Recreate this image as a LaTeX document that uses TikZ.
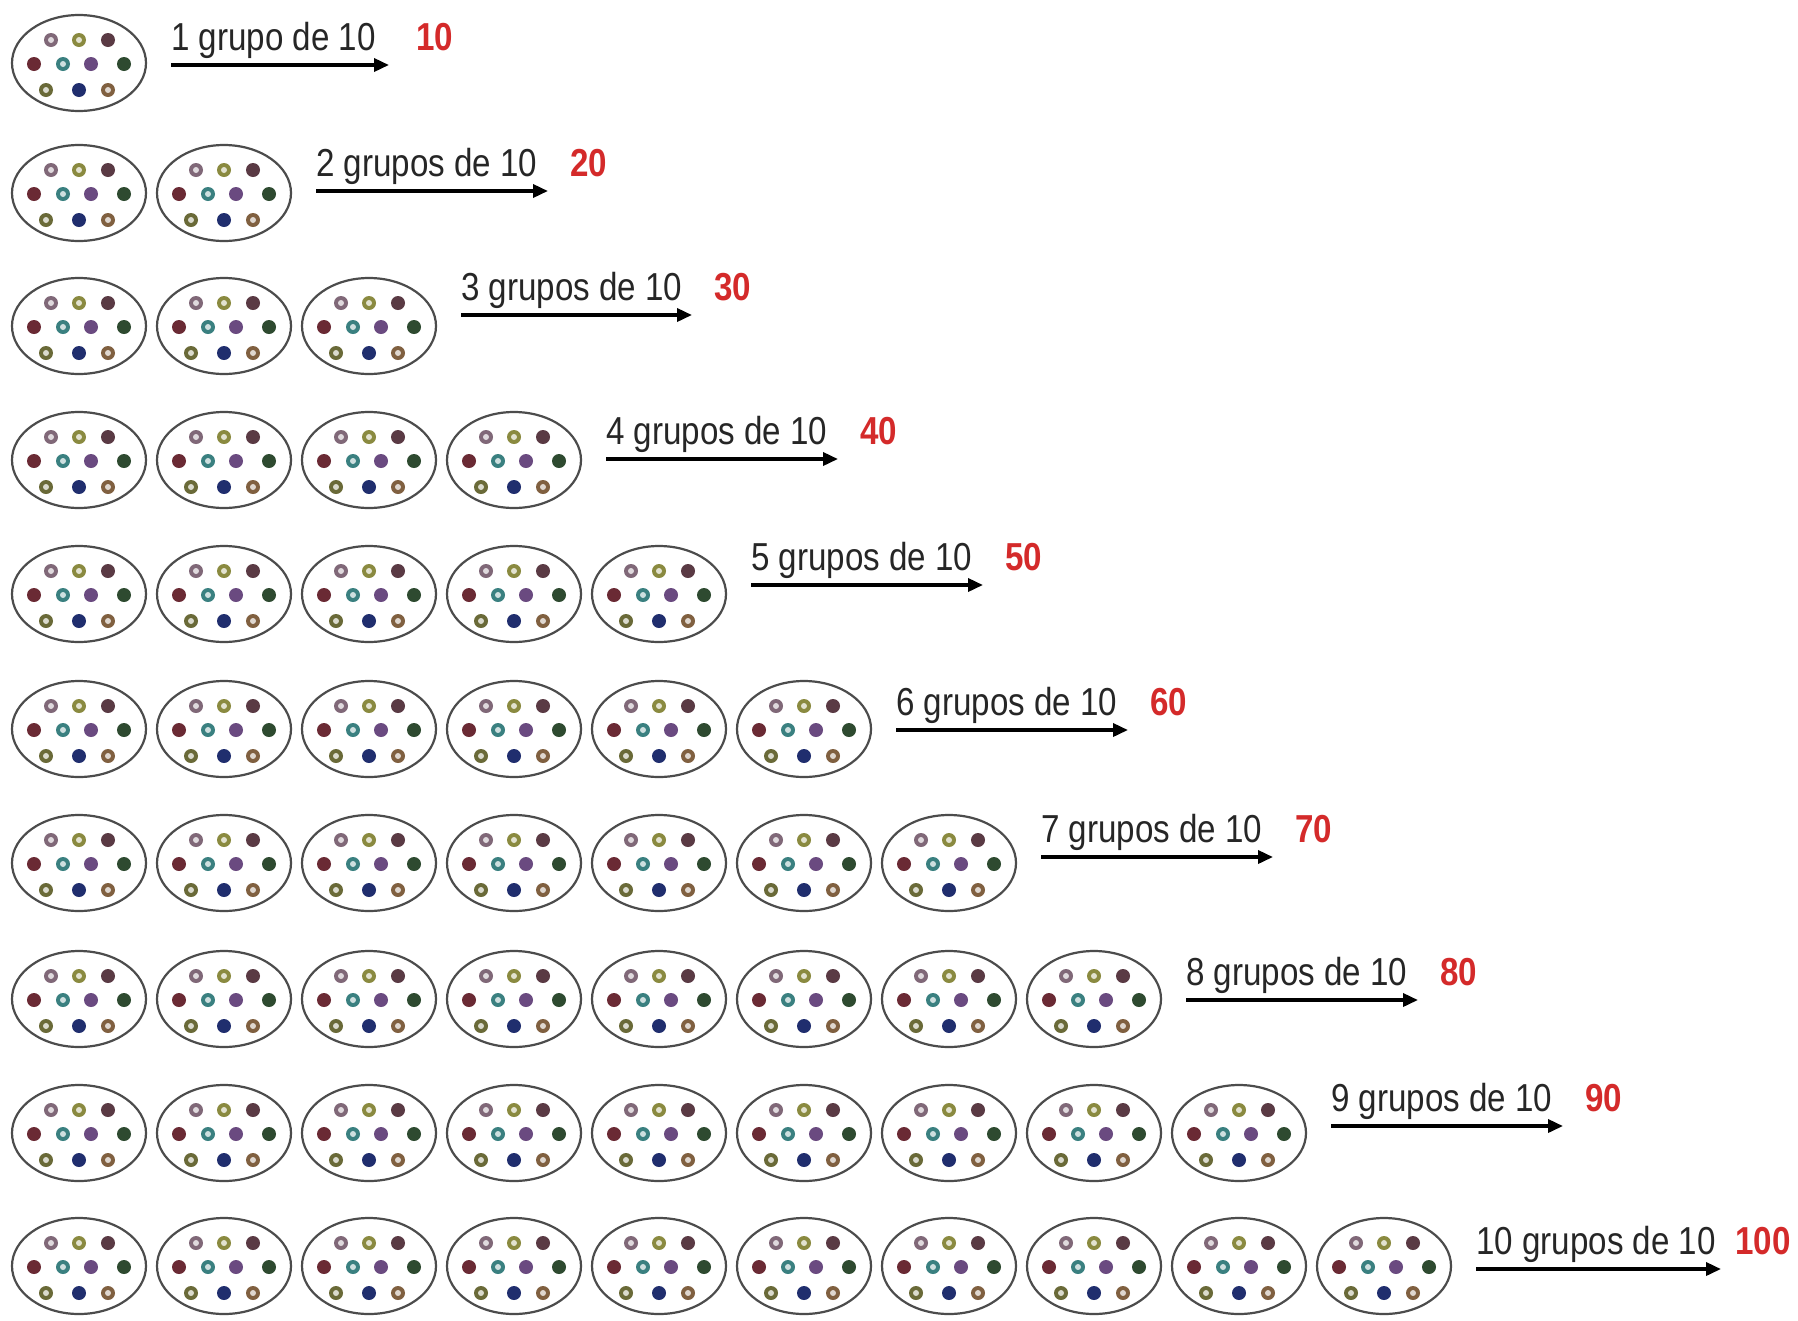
\documentclass[tikz,border=0pt]{standalone}
\usepackage{fontspec}
\setmainfont{Liberation Sans}[FakeStretch=0.85]
\usetikzlibrary{arrows.meta,calc,shapes.geometric}
\definecolor{cA}{HTML}{806878}
\definecolor{cB}{HTML}{8A8A40}
\definecolor{cC}{HTML}{5A3A44}
\definecolor{cD}{HTML}{6A2A34}
\definecolor{cE}{HTML}{3A8080}
\definecolor{cF}{HTML}{6A4A80}
\definecolor{cG}{HTML}{2E4A30}
\definecolor{cH}{HTML}{6A6A38}
\definecolor{cI}{HTML}{202E6E}
\definecolor{cJ}{HTML}{806040}
\definecolor{numred}{HTML}{D42A2A}
\begin{document}
\begin{tikzpicture}[x=1pt,y=-1pt,
  grpell/.style={ellipse,draw=black!70,line width=2.2pt,minimum width=134pt,minimum height=96pt,inner sep=0pt},
  arr/.style={line width=3.5pt,-{Triangle[length=15pt,width=13pt]}},
  lbl/.style={font=\fontsize{39}{45}\selectfont,text=black!85,inner sep=0pt},
  num/.style={font=\fontsize{39}{45}\selectfont\bfseries,text=numred,inner sep=0pt}]
\fill[white] (0,0) rectangle (1798,1320);
\useasboundingbox (0,0) rectangle (1798,1320);
\foreach \r/\cy/\ay/\al/\txt/\nm/\gap in {
  1/63/65/218/{1 grupo de 10}/10/27,
  2/193/191/232/{2 grupos de 10}/20/22,
  3/326/315/231/{3 grupos de 10}/30/22,
  4/460/459/232/{4 grupos de 10}/40/22,
  5/594/585/232/{5 grupos de 10}/50/22,
  6/729/730/232/{6 grupos de 10}/60/22,
  7/863/857/232/{7 grupos de 10}/70/22,
  8/999/1000/232/{8 grupos de 10}/80/22,
  9/1133/1126/232/{9 grupos de 10}/90/22,
  10/1266/1269/245/{10 grupos de 10}/100/14} {
  \foreach \k in {1,...,\r} {
    \node[grpell] (e\r-\k) at ({79+145*(\k-1)},\cy) {};
    \foreach \dx/\dy/\col/\ring in {-28/-23/cA/1, 0/-23/cB/1, 29/-23/cC/0,
        -45/1/cD/0, -16/1/cE/1, 12/1/cF/0, 45/1/cG/0,
        -33/27/cH/1, 0/27/cI/0, 29/27/cJ/1} {
      \fill[\col] ($(e\r-\k.center)+(\dx,\dy)$) circle[radius=7pt];
      \ifnum\ring=1
        \fill[\col!25!white] ($(e\r-\k.center)+(\dx,\dy)$) circle[radius=3pt];
      \fi
    }
  }
  \coordinate (as\r) at ({79+145*(\r-1)+92},\ay);
  \coordinate (ae\r) at ($(as\r)+(\al,0)$);
  \draw[arr] (as\r) -- (ae\r);
  \node[lbl,anchor=base west] (t\r) at ($(as\r)+(0,-15)$) {\txt};
  \node[num,anchor=base west] (n\r) at ($(ae\r)+(\gap,-15)$) {\nm};
}
\end{tikzpicture}
\end{document}
